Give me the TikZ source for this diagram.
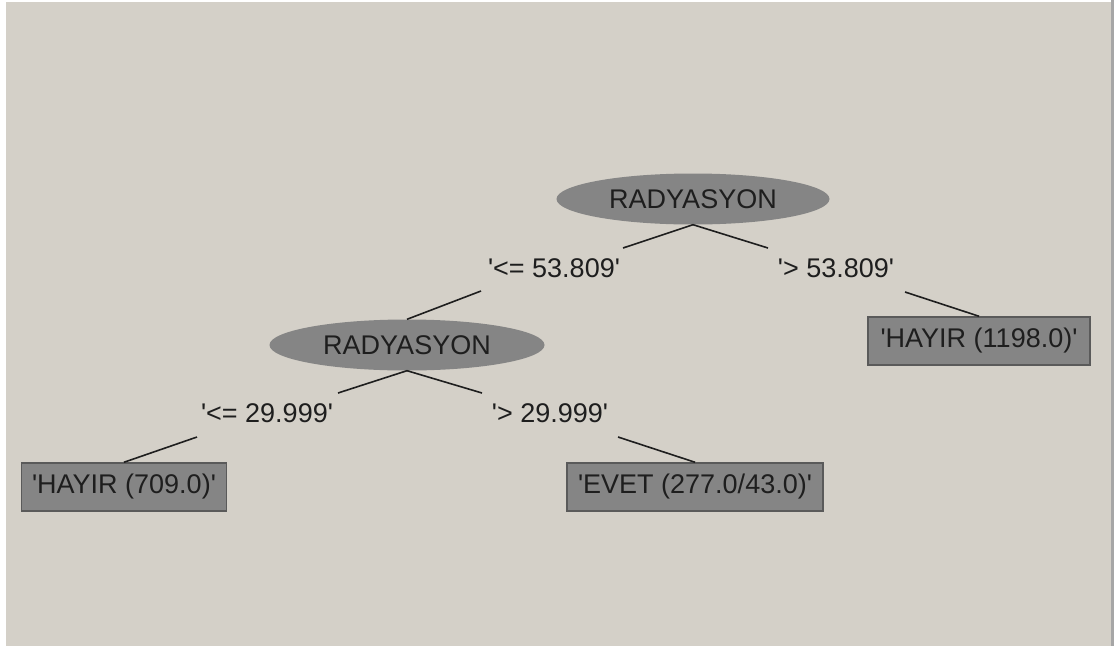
\documentclass[tikz,border=0pt]{standalone}
\usepackage{fontspec}
\setmainfont{Liberation Sans}
\usetikzlibrary{shapes.geometric}
\definecolor{panel}{HTML}{D4D0C8}
\definecolor{nodegray}{HTML}{858585}
\definecolor{edgegray}{HTML}{5A5A5A}
\definecolor{ink}{HTML}{1E1E1E}
\newcommand{\sq}{\textquotesingle}
\tikzset{
  testnode/.style={ellipse, fill=nodegray, inner sep=0pt, minimum width=273pt, minimum height=51pt, text=ink},
  leafnode/.style={rectangle, fill=nodegray, draw=edgegray, line width=1.5pt, inner sep=0pt, minimum height=48pt, text=ink},
  branchlabel/.style={inner sep=0pt, text=ink},
  treeline/.style={draw=ink, line width=1.6pt}
}
\begin{document}
\begin{tikzpicture}[x=1pt, y=-1pt, font=\fontsize{27}{31}\selectfont]
    % frame and background
    \fill[white] (0,0) rectangle (1117,646);
    \useasboundingbox (0,0) rectangle (1117,646);
    \fill[panel] (6,2) rectangle (1111,646);
    \fill[gray!70] (1111,0) rectangle (1114,646);

    % root test
    \node[testnode] (rad1) at (693,199) {RADYASYON};
    \node[branchlabel] (le1) at (554,268) {\sq<= 53.809\sq};
    \node[branchlabel] (gt1) at (836,268) {\sq> 53.809\sq};
    \node[leafnode, minimum width=222pt] (hay1) at (979,341) {\sq HAYIR (1198.0)\sq};

    % second test
    \node[testnode, minimum width=275pt] (rad2) at (407,345) {RADYASYON};
    \node[branchlabel] (le2) at (267,413) {\sq<= 29.999\sq};
    \node[branchlabel] (gt2) at (550,413) {\sq> 29.999\sq};
    \node[leafnode, minimum width=205pt] (hay2) at (124,487) {\sq HAYIR (709.0)\sq};
    \node[leafnode, minimum width=256pt] (evet) at (695,487) {\sq EVET (277.0/43.0)\sq};

    % loose ends of the branch lines
    \coordinate (a1) at (623,248);
    \coordinate (b1) at (768,248);
    \coordinate (a2) at (481,291);
    \coordinate (b2) at (905,292);
    \coordinate (c1) at (338,393);
    \coordinate (d1) at (482,393);
    \coordinate (c2) at (197,437);
    \coordinate (d2) at (618,437);

    % branches
    \draw[treeline] (rad1.south) -- (a1);
    \draw[treeline] (rad1.south) -- (b1);
    \draw[treeline] (a2) -- (rad2.north);
    \draw[treeline] (b2) -- (hay1.north);
    \draw[treeline] (rad2.south) -- (c1);
    \draw[treeline] (rad2.south) -- (d1);
    \draw[treeline] (c2) -- (hay2.north);
    \draw[treeline] (d2) -- (evet.north);
\end{tikzpicture}
\end{document}
